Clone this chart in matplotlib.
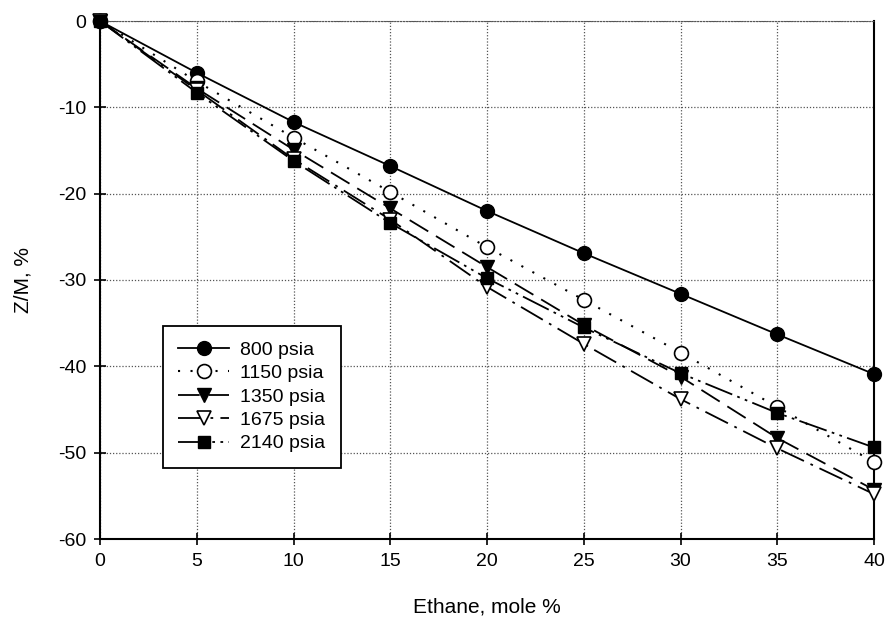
import matplotlib.pyplot as plt

# Ethane content (mole %) and Z/M deviation (%) for each pressure
ethane = [0, 5, 10, 15, 20, 25, 30, 35, 40]
zm_800 = [0, -6.0, -11.7, -16.8, -22.0, -26.9, -31.6, -36.3, -40.9]
zm_1150 = [0, -7.0, -13.5, -19.8, -26.2, -32.3, -38.4, -44.7, -51.1]
zm_1350 = [0, -7.8, -14.9, -21.7, -28.5, -35.2, -41.2, -48.3, -54.3]
zm_1675 = [0, -8.0, -16.0, -23.0, -30.8, -37.4, -43.8, -49.5, -54.8]
zm_2140 = [0, -8.3, -16.2, -23.4, -29.8, -35.5, -40.8, -45.4, -49.4]

plt.rcParams['font.family'] = ['Liberation Sans', 'DejaVu Sans']
plt.rcParams['axes.unicode_minus'] = False

fig = plt.figure(figsize=(8.88, 6.24), dpi=100)
ax = fig.add_axes([100 / 888, 85 / 624, 774 / 888, 518 / 624])

ms = 10
ax.plot(ethane, zm_800, '-', color='black', lw=1.3, marker='o', ms=ms,
        mfc='black', label='800 psia', zorder=3, clip_on=False)
ax.plot(ethane, zm_1150, linestyle=(0, (1, 5)), color='black', lw=1.5, marker='o', ms=ms,
        mfc='white', mec='black', mew=1.2, label='1150 psia', zorder=3, clip_on=False)
ax.plot(ethane, zm_1350, linestyle=(0, (12, 5)), color='black', lw=1.3, marker='v', ms=ms,
        mfc='black', label='1350 psia', zorder=3, clip_on=False)
ax.plot(ethane, zm_1675, linestyle=(0, (14, 4, 1.5, 4)), color='black', lw=1.3, marker='v', ms=ms,
        mfc='white', mec='black', mew=1.2, label='1675 psia', zorder=3, clip_on=False)
ax.plot(ethane, zm_2140, linestyle=(0, (16, 3, 1.5, 3, 1.5, 3)), color='black', lw=1.3, marker='s', ms=9,
        mfc='black', label='2140 psia', zorder=3, clip_on=False)

ax.set_xlim(0, 40)
ax.set_ylim(-60, 0)
ax.set_xticks(range(0, 41, 5))
ax.set_yticks(range(-60, 1, 10))
ax.tick_params(direction='inout', length=8, width=1.2, labelsize=14, pad=6)
ax.grid(True, linestyle=(0, (1, 1.5)), color='#555555', lw=0.9)
for side in ['left', 'bottom', 'right']:
    ax.spines[side].set_linewidth(1.5)
ax.spines['top'].set_linestyle((0, (1, 1.5)))
ax.spines['top'].set_color('#555555')

ax.set_xlabel('Ethane, mole %', fontsize=15, labelpad=20)
ax.set_ylabel('Z/M, %', fontsize=15, labelpad=18)

leg = ax.legend(loc='lower left', bbox_to_anchor=(0.081, 0.137), borderaxespad=0,
                fontsize=14, frameon=True, fancybox=False, edgecolor='black', framealpha=1,
                handlelength=2.6, handletextpad=0.6, borderpad=0.8, labelspacing=0.3)
leg.get_frame().set_linewidth(1.3)

fig.savefig('out.png', dpi=100)
